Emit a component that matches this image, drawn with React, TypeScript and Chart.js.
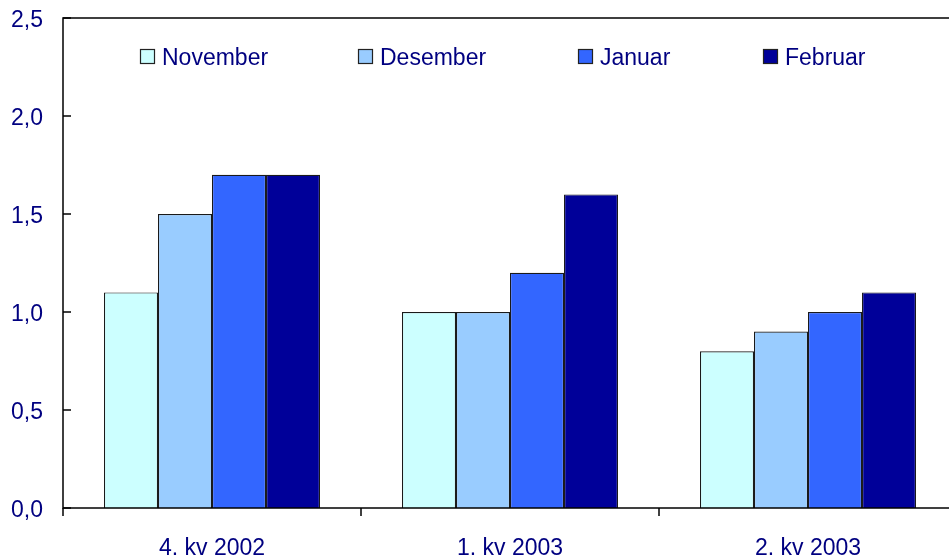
import { useEffect, useRef } from 'react';
import { Chart, registerables } from 'chart.js';

Chart.register(...registerables);

const categories = ['4. kv 2002', '1. kv 2003', '2. kv 2003'];
const seriesNames = ['November', 'Desember', 'Januar', 'Februar'];
const november = [1.1, 1.0, 0.8];
const desember = [1.5, 1.0, 0.9];
const januar = [1.7, 1.2, 1.0];
const februar = [1.7, 1.6, 1.1];
const seriesColors = ['#CCFFFF', '#99CCFF', '#3366FF', '#000099'];
const yTicks = [0, 0.5, 1.0, 1.5, 2.0, 2.5];

const FONT = '"Liberation Sans", Arial, sans-serif';
const TEXT = '#000080';
const legendX = [140, 358, 578, 763];

const framePlugin = {
  id: 'frame',
  afterDatasetsDraw(chart: any) {
    const { ctx, chartArea, scales } = chart;
    const { left, top, right, bottom } = chartArea;
    const x = scales.x;
    const y = scales.y;
    ctx.save();
    ctx.strokeStyle = '#000';
    ctx.lineWidth = 1.5;
    ctx.strokeRect(left, top, right - left, bottom - top);
    for (const v of yTicks) {
      const py = y.getPixelForValue(v);
      ctx.beginPath();
      ctx.moveTo(left, py);
      ctx.lineTo(left + 8, py);
      ctx.stroke();
    }
    const n = categories.length;
    const cw = (x.right - x.left) / n;
    for (let i = 0; i <= n; i++) {
      const px = x.left + i * cw;
      ctx.beginPath();
      ctx.moveTo(px, bottom);
      ctx.lineTo(px, bottom + 8);
      ctx.stroke();
    }
    // legend
    ctx.font = `23px ${FONT}`;
    ctx.textBaseline = 'middle';
    ctx.textAlign = 'left';
    seriesNames.forEach((name, i) => {
      const bx = legendX[i];
      ctx.fillStyle = seriesColors[i];
      ctx.fillRect(bx + 0.5, 49.5, 14, 14);
      ctx.lineWidth = 1.2;
      ctx.strokeStyle = '#222';
      ctx.strokeRect(bx + 0.5, 49.5, 14, 14);
      ctx.fillStyle = TEXT;
      ctx.fillText(name, bx + 22, 58.5);
    });
    ctx.restore();
  },
};

export default function App() {
  const ref = useRef<HTMLCanvasElement | null>(null);
  useEffect(() => {
    document.body.style.margin = '0';
    const canvas = ref.current;
    if (!canvas) return;
    const values = [november, desember, januar, februar];
    const chart = new Chart(canvas, {
      type: 'bar',
      data: {
        labels: categories,
        datasets: seriesNames.map((name, i) => ({
          label: name,
          data: values[i],
          backgroundColor: seriesColors[i],
          borderColor: '#1a1a1a',
          borderWidth: 1.2,
          categoryPercentage: 0.725,
          barPercentage: 1,
        })),
      },
      options: {
        animation: false,
        responsive: false,
        maintainAspectRatio: false,
        layout: { padding: { top: 18, right: 13, left: 0, bottom: 0 } },
        plugins: {
          legend: { display: false },
          tooltip: { enabled: false },
          title: { display: false },
        },
        scales: {
          x: {
            grid: { display: false, drawTicks: false },
            border: { display: false },
            ticks: {
              color: TEXT,
              font: { family: FONT, size: 23 },
              padding: 27,
              maxRotation: 0,
            },
            afterFit(scale: any) {
              scale.height = 50;
              scale.paddingLeft = 0;
              scale.paddingRight = 0;
            },
          },
          y: {
            min: 0,
            max: 2.5,
            grid: { display: false, drawTicks: false },
            border: { display: false },
            ticks: {
              stepSize: 0.5,
              color: TEXT,
              font: { family: FONT, size: 23 },
              padding: 20,
              labelOffset: 3,
              callback: (v: any) => Number(v).toFixed(1).replace('.', ','),
            },
            afterFit(scale: any) {
              scale.width = 63;
              scale.paddingTop = 0;
              scale.paddingBottom = 0;
            },
          },
        },
      },
      plugins: [framePlugin],
    });
    return () => chart.destroy();
  }, []);
  return (
    <div style={{ width: 949, height: 558, overflow: 'hidden', background: '#fff' }}>
      <canvas ref={ref} width={970} height={558} style={{ display: 'block' }} />
    </div>
  );
}
